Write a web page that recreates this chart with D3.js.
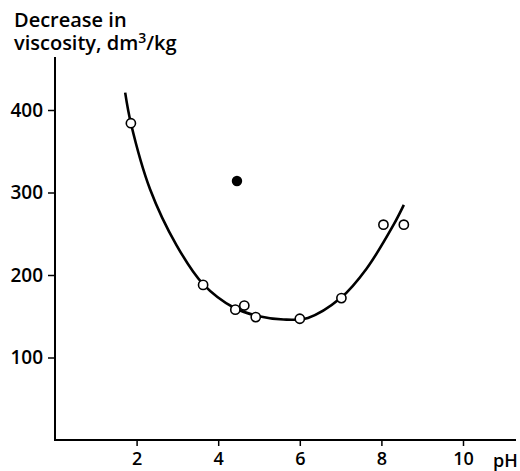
<!DOCTYPE html>
<html>
  <head>
    <meta charset="utf-8">
    <title>Decrease in viscosity vs pH</title>
    <script src="https://d3js.org/d3.v7.min.js"></script>
    <style>
      body { margin: 0; background: #fff; }
      text { font-family: "Open Sans", sans-serif; font-weight: 600; fill: #000; }
    </style>
  </head>
  <body>
  <script type="text/javascript">
    // measured points (open circles)
    var phOpen   = [1.86, 3.63, 4.42, 4.64, 4.92, 6.0, 7.02, 8.05, 8.55];
    var viscOpen = [384, 188, 158, 163, 149, 147, 172, 261, 261];

    // the one filled point
    var phFilled   = [4.46];
    var viscFilled = [314];

    // hand-drawn fit curve
    var phCurve   = [1.72, 1.86, 2.33, 2.98, 3.63, 4.4, 5.0, 5.6, 6.2, 7.0, 7.64, 8.3, 8.55];
    var viscCurve = [421, 384, 304, 236, 189, 160, 150, 146, 148, 172, 208, 261, 285];

    var xTicks = [2, 4, 6, 8, 10];
    var yTicks = [100, 200, 300, 400];

    var svg = d3.select("body").append("svg")
      .attr("width", 520)
      .attr("height", 471);

    var x = d3.scaleLinear().domain([0, 10]).range([55, 463]);
    var y = d3.scaleLinear().domain([0, 400]).range([440, 110]);

    // axes
    var xAxis = svg.append("g")
      .attr("transform", "translate(0,440)")
      .call(d3.axisBottom(x).tickValues(xTicks).tickSize(6).tickPadding(4));
    xAxis.select(".domain").remove();
    xAxis.append("line")
      .attr("x1", 54).attr("x2", 516)
      .attr("stroke", "#000").attr("stroke-width", 2);
    xAxis.selectAll(".tick line").attr("stroke-width", 1.5);
    xAxis.selectAll(".tick text")
      .style("font-size", "18px")
      .attr("dy", "0.85em");

    var yAxis = svg.append("g")
      .attr("transform", "translate(55,0)")
      .call(d3.axisLeft(y).tickValues(yTicks).tickSize(7).tickPadding(5));
    yAxis.select(".domain").remove();
    yAxis.append("line")
      .attr("y1", 57).attr("y2", 441)
      .attr("stroke", "#000").attr("stroke-width", 2);
    yAxis.selectAll(".tick line").attr("stroke-width", 1.5);
    yAxis.selectAll(".tick text")
      .style("font-size", "19px");

    svg.append("text")
      .attr("x", 493).attr("y", 467)
      .style("font-size", "18px")
      .text("pH");

    // axis title
    svg.append("text")
      .attr("x", 14).attr("y", 27)
      .style("font-size", "20px")
      .text("Decrease in");
    var t2 = svg.append("text")
      .attr("x", 14).attr("y", 50)
      .style("font-size", "20px")
      .text("viscosity, dm");
    t2.append("tspan")
      .attr("dy", -7)
      .style("font-size", "14px")
      .text("3");
    t2.append("tspan")
      .attr("dy", 7)
      .text("/kg");

    // fitted curve
    var curve = phCurve.map(function(d, i){ return [d, viscCurve[i]]; });
    var line = d3.line()
      .x(function(d){ return x(d[0]); })
      .y(function(d){ return y(d[1]); })
      .curve(d3.curveCatmullRom);

    svg.append("path")
      .datum(curve)
      .attr("d", line)
      .attr("fill", "none")
      .attr("stroke", "#000")
      .attr("stroke-width", 2.6);

    svg.selectAll("circle.open")
      .data(phOpen)
      .enter()
        .append("circle")
        .attr("class", "open")
        .attr("cx", function(d){ return x(d); })
        .attr("cy", function(d, i){ return y(viscOpen[i]); })
        .attr("r", 4.6)
        .attr("fill", "#fff")
        .attr("stroke", "#000")
        .attr("stroke-width", 1.6);

    svg.selectAll("circle.filled")
      .data(phFilled)
      .enter()
        .append("circle")
        .attr("class", "filled")
        .attr("cx", function(d){ return x(d); })
        .attr("cy", function(d, i){ return y(viscFilled[i]); })
        .attr("r", 5.2)
        .attr("fill", "#000");
  </script>
  </body>
</html>
